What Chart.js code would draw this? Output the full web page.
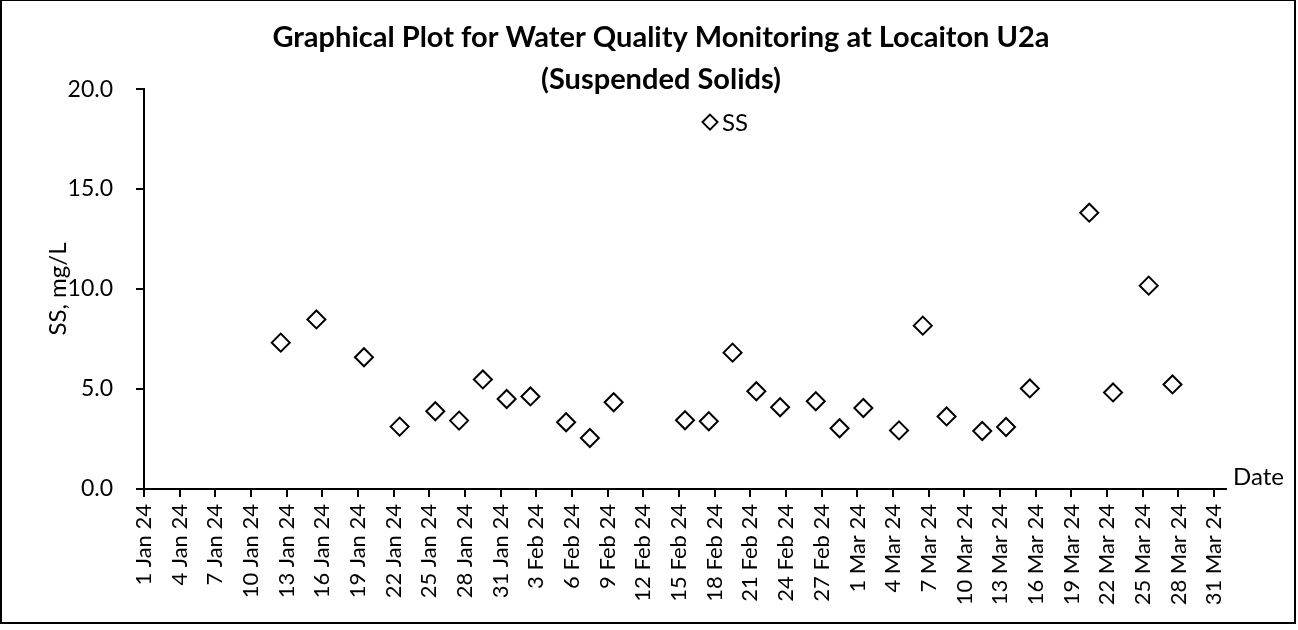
<!DOCTYPE html>
<html>
<head>
<meta charset="utf-8">
<title>U2a Suspended Solids</title>
<script src="https://cdn.jsdelivr.net/npm/chart.js"></script>
<style>
  body { margin: 0; background: #fff; }
  canvas { display: block; }
</style>
</head>
<body>
<canvas id="ssChart" width="1298" height="630"></canvas>
<script>
// sampling dates (samples taken around midday) and SS results in mg/L
var sampleDates = [
  '2024-01-12', '2024-01-15', '2024-01-19', '2024-01-22', '2024-01-25',
  '2024-01-27', '2024-01-29', '2024-01-31', '2024-02-02', '2024-02-05',
  '2024-02-07', '2024-02-09', '2024-02-15', '2024-02-17', '2024-02-19',
  '2024-02-21', '2024-02-23', '2024-02-26', '2024-02-28', '2024-03-01',
  '2024-03-04', '2024-03-06', '2024-03-08', '2024-03-11', '2024-03-13',
  '2024-03-15', '2024-03-20', '2024-03-22', '2024-03-25', '2024-03-27'
];
var ssValues = [
  7.32, 8.48, 6.59, 3.12, 3.89,
  3.42, 5.48, 4.50, 4.63, 3.34,
  2.55, 4.34, 3.44, 3.39, 6.82,
  4.89, 4.09, 4.39, 3.04, 4.05,
  2.93, 8.17, 3.63, 2.90, 3.10,
  5.03, 13.82, 4.83, 10.17, 5.23
];
var monthNames = ['Jan', 'Feb', 'Mar', 'Apr'];
var titleLines = ['Graphical Plot for Water Quality Monitoring at Locaiton U2a', '(Suspended Solids)'];

var startDate = Date.UTC(2024, 0, 1);
var dayMs = 86400000;
var sampleHour = 12;

function dayOffset(str) {
  var p = str.split('-');
  return (Date.UTC(+p[0], +p[1] - 1, +p[2]) - startDate) / dayMs + sampleHour / 24;
}

function dateLabel(v) {
  var d = new Date(startDate + v * dayMs);
  return d.getUTCDate() + ' ' + monthNames[d.getUTCMonth()] + ' ' + String(d.getUTCFullYear()).slice(2);
}

var points = sampleDates.map(function(s, i) {
  return { x: dayOffset(s), y: ssValues[i] };
});

// outer border, series key and the "Date" caption next to the x axis
var extras = {
  id: 'extras',
  afterDraw: function(chart) {
    var ctx = chart.ctx;
    var area = chart.chartArea;
    ctx.save();

    ctx.strokeStyle = '#000';
    ctx.lineWidth = 2;
    ctx.strokeRect(1, 0, 1294, 623);

    ctx.fillStyle = '#000';
    ctx.font = '24px Lato';
    ctx.textBaseline = 'middle';
    ctx.textAlign = 'left';
    ctx.fillText('Date', area.right + 7, area.bottom - 12);

    // key: diamond + dataset label
    var kx = (area.left + area.right) / 2 + 25;
    var ky = area.top + 33;
    var r = 7.5;
    ctx.beginPath();
    ctx.moveTo(kx, ky - r);
    ctx.lineTo(kx + r, ky);
    ctx.lineTo(kx, ky + r);
    ctx.lineTo(kx - r, ky);
    ctx.closePath();
    ctx.fillStyle = '#fff';
    ctx.fill();
    ctx.lineWidth = 2;
    ctx.stroke();
    ctx.fillStyle = '#000';
    ctx.fillText(chart.data.datasets[0].label, kx + 12, ky + 1);

    ctx.restore();
  }
};

Chart.defaults.font.family = 'Lato';
Chart.defaults.color = '#000';

new Chart(document.getElementById('ssChart'), {
  type: 'scatter',
  data: {
    datasets: [{
      label: 'SS',
      data: points,
      pointStyle: 'rectRot',
      pointRadius: 9,
      pointHoverRadius: 9,
      borderWidth: 2,
      borderColor: '#000',
      backgroundColor: '#fff',
      showLine: false
    }]
  },
  options: {
    responsive: false,
    animation: false,
    layout: { padding: { left: 24, right: 0, top: 0, bottom: 0 } },
    plugins: {
      legend: { display: false },
      tooltip: { enabled: false },
      title: {
        display: true,
        text: titleLines,
        color: '#000',
        font: { size: 29, weight: 'bold', lineHeight: 1.45 },
        padding: { top: 17, bottom: -12 }
      }
    },
    scales: {
      x: {
        type: 'linear',
        min: 0,
        max: 91,
        afterFit: function(scale) { scale.height = 141; },
        grid: { drawOnChartArea: false, tickLength: 8, color: '#000', lineWidth: 2 },
        border: { color: '#000', width: 2 },
        ticks: {
          stepSize: 3,
          includeBounds: false,
          autoSkip: false,
          maxRotation: 90,
          minRotation: 90,
          padding: 7,
          font: { size: 22 },
          callback: function(v) { return dateLabel(v); }
        }
      },
      y: {
        min: 0,
        max: 20,
        afterFit: function(scale) { scale.width = 120; },
        grid: { drawOnChartArea: false, tickLength: 8, color: '#000', lineWidth: 2 },
        border: { color: '#000', width: 2 },
        title: {
          display: true,
          text: 'SS, mg/L',
          font: { size: 24 },
          padding: { top: 20 }
        },
        ticks: {
          stepSize: 5,
          padding: 23,
          font: { size: 23 },
          callback: function(v) { return v.toFixed(1); }
        }
      },
      // empty strip on the right, leaves room for the "Date" caption
      gutter: {
        type: 'linear',
        position: 'right',
        afterFit: function(scale) { scale.width = 72; },
        grid: { display: false },
        border: { display: false },
        ticks: { display: false }
      }
    }
  },
  plugins: [extras]
});
</script>
</body>
</html>
